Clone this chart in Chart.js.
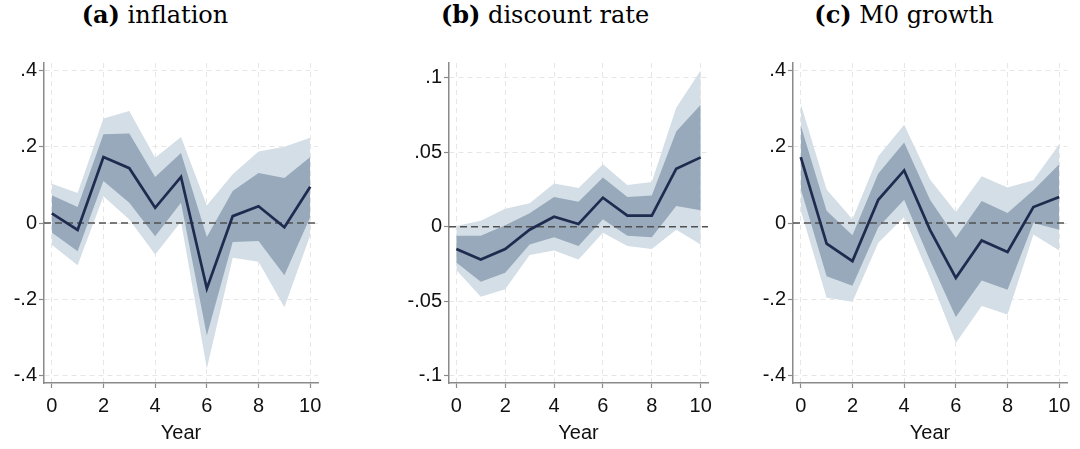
<!DOCTYPE html>
<html>
<head>
<meta charset="utf-8">
<script src="https://cdn.jsdelivr.net/npm/chart.js@4.4.1/dist/chart.umd.min.js"></script>
<style>
  html, body { margin: 0; padding: 0; background: #fff; }
  #wrap { position: relative; width: 1080px; height: 449px; overflow: hidden; }
  .panel { position: absolute; top: 0; height: 449px; }
  .ttl {
    position: absolute; top: 3px; width: 300px; text-align: center;
    font-family: "DejaVu Serif", serif; font-size: 24px; line-height: 24px; color: #000;
    white-space: nowrap;
  }
  .ttl b { font-weight: bold; }
</style>
</head>
<body>
<div id="wrap">
  <div class="ttl" style="left:5px"><b>(a)</b> inflation</div>
  <div class="ttl" style="left:395px"><b>(b)</b> discount rate</div>
  <div class="ttl" style="left:754px"><b>(c)</b> M0 growth</div>
  <div class="panel" style="left:0;width:330px"><canvas id="chartA"></canvas></div>
  <div class="panel" style="left:400px;width:320px"><canvas id="chartB"></canvas></div>
  <div class="panel" style="left:745px;width:335px"><canvas id="chartC"></canvas></div>
</div>
<script>
const years = [0, 1, 2, 3, 4, 5, 6, 7, 8, 9, 10];
const xTicks = [0, 2, 4, 6, 8, 10];

// (a) inflation
const inflEst     = [0.025, -0.018, 0.173, 0.144, 0.040, 0.121, -0.172, 0.018, 0.044, -0.011, 0.095];
const inflInnerHi = [0.073, 0.042, 0.233, 0.235, 0.121, 0.184, -0.037, 0.084, 0.131, 0.118, 0.173];
const inflInnerLo = [-0.025, -0.074, 0.110, 0.053, -0.035, 0.053, -0.295, -0.050, -0.047, -0.137, 0.016];
const inflOuterHi = [0.103, 0.079, 0.274, 0.294, 0.171, 0.226, 0.046, 0.128, 0.188, 0.200, 0.224];
const inflOuterLo = [-0.057, -0.111, 0.070, 0.009, -0.083, 0.003, -0.382, -0.091, -0.102, -0.221, -0.032];
const inflTicks   = [-0.4, -0.2, 0, 0.2, 0.4];

// (b) discount rate
const discEst     = [-0.015, -0.022, -0.015, -0.002, 0.0067, 0.0018, 0.0195, 0.0074, 0.0074, 0.039, 0.0466];
const discInnerHi = [-0.006, -0.006, 0.001, 0.009, 0.020, 0.0168, 0.033, 0.020, 0.021, 0.064, 0.082];
const discInnerLo = [-0.024, -0.037, -0.031, -0.012, -0.007, -0.013, 0.005, -0.006, -0.007, 0.014, 0.011];
const discOuterHi = [0.0005, 0.004, 0.012, 0.0157, 0.029, 0.026, 0.042, 0.028, 0.030, 0.080, 0.105];
const discOuterLo = [-0.029, -0.047, -0.042, -0.019, -0.016, -0.022, -0.004, -0.013, -0.015, -0.002, -0.012];
const discTicks   = [-0.1, -0.05, 0, 0.05, 0.1];

// (c) M0 growth
const m0Est     = [0.173, -0.054, -0.100, 0.061, 0.138, -0.018, -0.144, -0.046, -0.076, 0.042, 0.068];
const m0InnerHi = [0.256, 0.032, -0.032, 0.130, 0.211, 0.061, -0.039, 0.058, 0.026, 0.086, 0.154];
const m0InnerLo = [0.090, -0.140, -0.165, -0.011, 0.061, -0.098, -0.247, -0.151, -0.175, 0.000, -0.018];
const m0OuterHi = [0.313, 0.088, 0.010, 0.175, 0.258, 0.114, 0.029, 0.123, 0.093, 0.112, 0.207];
const m0OuterLo = [0.033, -0.196, -0.207, -0.052, 0.016, -0.144, -0.315, -0.218, -0.240, -0.030, -0.072];
const m0Ticks   = [-0.4, -0.2, 0, 0.2, 0.4];

const X_MIN = -0.3;
const X_MAX = 10.3;

const lineColor = '#1f2a4f';
const innerColor = 'rgb(151,169,186)';
const outerColor = 'rgb(212,222,230)';
const gridColor = '#e6e6e6';
const axisColor = '#8a8a8a';
const tickFont = { family: '"Liberation Sans", Arial, sans-serif', size: 20 };

function pts(values) {
  return years.map(function (yr, i) { return { x: yr, y: values[i] }; });
}

function fmtTick(v) {
  if (Math.abs(v) < 1e-9) return '0';
  return String(+v.toFixed(3)).replace('0.', '.');
}

function buildChart(id, est, innerHi, innerLo, outerHi, outerLo, yTicks, yMin, yMax, yWidth, padRight) {
  const band = function (values, fill, color, order) {
    return {
      data: pts(values), fill: fill, backgroundColor: color, borderColor: 'rgba(0,0,0,0)',
      borderWidth: 0, pointRadius: 0, tension: 0, order: order
    };
  };

  const gridOpts = {
    color: gridColor, lineWidth: 1, drawTicks: true,
    tickLength: 5, tickColor: axisColor, tickBorderDash: [], tickWidth: 1.2
  };

  return new Chart(document.getElementById(id), {
    type: 'line',
    data: {
      datasets: [
        { data: pts(est), borderColor: lineColor, borderWidth: 2.7, pointRadius: 0, fill: false, order: 0 },
        {
          data: [{ x: X_MIN, y: 0 }, { x: X_MAX, y: 0 }], borderColor: '#505050', borderWidth: 1.5,
          borderDash: [7, 4], pointRadius: 0, fill: false, order: 1
        },
        band(innerHi, '+1', innerColor, 2),
        band(innerLo, false, innerColor, 2),
        band(outerHi, '+1', outerColor, 3),
        band(outerLo, false, outerColor, 3)
      ]
    },
    options: {
      responsive: false,
      animation: false,
      devicePixelRatio: 1,
      layout: { padding: { top: 63, right: padRight, bottom: 0, left: 0 } },
      plugins: { legend: { display: false }, tooltip: { enabled: false }, title: { display: false } },
      scales: {
        x: {
          type: 'linear', min: X_MIN, max: X_MAX,
          afterBuildTicks: function (scale) { scale.ticks = xTicks.map(function (v) { return { value: v }; }); },
          afterFit: function (scale) { scale.height = 66; },
          grid: gridOpts,
          border: { display: true, color: axisColor, width: 1.5, dash: [5, 4] },
          ticks: { font: tickFont, color: '#111', padding: 6, maxRotation: 0, autoSkip: false },
          title: { display: true, text: 'Year', font: tickFont, color: '#111', padding: { top: 0, bottom: 4 } }
        },
        y: {
          type: 'linear', min: yMin, max: yMax,
          afterBuildTicks: function (scale) { scale.ticks = yTicks.map(function (v) { return { value: v }; }); },
          afterFit: function (scale) { scale.width = yWidth; },
          grid: gridOpts,
          border: { display: true, color: axisColor, width: 1.5, dash: [5, 4] },
          ticks: { font: tickFont, color: '#111', padding: 2, callback: fmtTick }
        }
      }
    }
  });
}

function sizeCanvas(id, w) {
  const c = document.getElementById(id);
  c.width = w; c.height = 449;
  c.style.width = w + 'px'; c.style.height = '449px';
}

sizeCanvas('chartA', 330);
sizeCanvas('chartB', 320);
sizeCanvas('chartC', 335);

buildChart('chartA', inflEst, inflInnerHi, inflInnerLo, inflOuterHi, inflOuterLo, inflTicks, -0.42, 0.42, 44, 12);
buildChart('chartB', discEst, discInnerHi, discInnerLo, discOuterHi, discOuterLo, discTicks, -0.105, 0.11, 49, 12);
buildChart('chartC', m0Est, m0InnerHi, m0InnerLo, m0OuterHi, m0OuterLo, m0Ticks, -0.42, 0.42, 48, 13);
</script>
</body>
</html>
